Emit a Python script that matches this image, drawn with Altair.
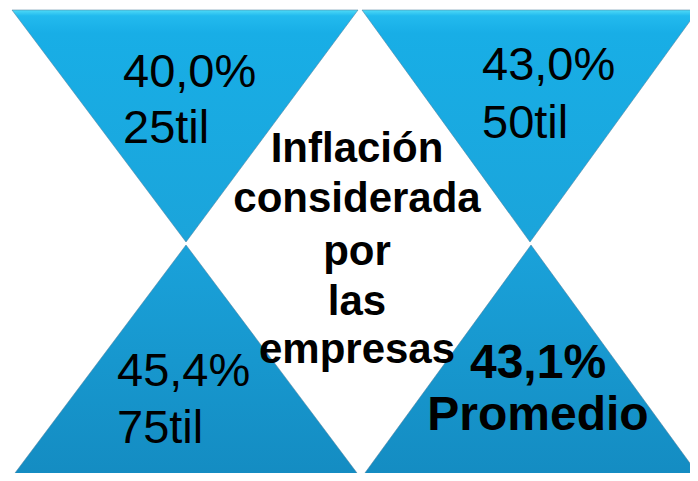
import altair as alt
import pandas as pd

# ---- data ----
pct_values = [40.0, 43.0, 45.4, 43.1]
stat_labels = ["25til", "50til", "75til", "Promedio"]
center_lines = ["Inflación", "considerada", "por", "las", "empresas"]

# ---- layout (pixel frame of the picture) ----
W, H = 682, 465
X0, Y0 = 8, 8
xs = alt.Scale(domain=[X0, X0 + W], nice=False, zero=False)
ys = alt.Scale(domain=[Y0, Y0 + H], nice=False, zero=False, reverse=True)

tri_layout = [
    # name, left, right, apex x, base y, apex y, row
    ("tl", 12, 358, 186, 10, 242, "top"),
    ("tr", 362, 698, 530, 10, 242, "top"),
    ("bl", 12, 360, 186, 477, 245, "bottom"),
    ("br", 362, 700, 531, 477, 245, "bottom"),
]
rows = []
for name, xl, xr, xa, yb, ya, row in tri_layout:
    rows += [
        dict(tri=name, row=row, x=xl, y=yb, y2=yb),
        dict(tri=name, row=row, x=xa, y=ya, y2=yb),
        dict(tri=name, row=row, x=xr, y=yb, y2=yb),
    ]
tri_df = pd.DataFrame(rows)

def fmt(v):
    return f"{v:.1f}".replace(".", ",") + "%"

label_pos = [(123, 87, 143), (482, 80, 138), (117, 386, 443)]
reg_rows = []
for i, (lx, y1, y2) in enumerate(label_pos):
    reg_rows.append(dict(t=fmt(pct_values[i]), x=lx, y=y1))
    reg_rows.append(dict(t=stat_labels[i], x=lx, y=y2))
reg_df = pd.DataFrame(reg_rows)

title_base = [162, 212, 265, 315, 363]
title_df = pd.DataFrame([dict(t=t, x=357, y=b) for t, b in zip(center_lines, title_base)])
avg_df = pd.DataFrame([
    dict(t=fmt(pct_values[3]), x=538, y=378),
    dict(t=stat_labels[3], x=538, y=430),
])

top_grad = alt.Gradient(
    gradient="linear", x1=0, y1=0, x2=0, y2=1,
    stops=[alt.GradientStop(offset=0, color="#4FDAF7"),
           alt.GradientStop(offset=0.025, color="#22BAEE"),
           alt.GradientStop(offset=0.1, color="#18AEE6"),
           alt.GradientStop(offset=1, color="#1BA4DA")])
bot_grad = alt.Gradient(
    gradient="linear", x1=0, y1=0, x2=0, y2=1,
    stops=[alt.GradientStop(offset=0, color="#1AA2DA"),
           alt.GradientStop(offset=1, color="#148CC2")])

def tri_layer(rowname, grad):
    return alt.Chart(tri_df).transform_filter(alt.datum.row == rowname).mark_area(
        orient="vertical", color=grad, stroke="#4d7f9e", strokeWidth=1, strokeOpacity=0.55
    ).encode(
        x=alt.X("x:Q", scale=xs, axis=None),
        y=alt.Y("y:Q", scale=ys, axis=None),
        y2="y2:Q",
        detail="tri:N",
    )

FONT = "Liberation Sans"

reg_text = alt.Chart(reg_df).mark_text(
    font=FONT, fontSize=47, align="left", baseline="alphabetic", color="black"
).encode(x=alt.X("x:Q", scale=xs, axis=None), y=alt.Y("y:Q", scale=ys, axis=None), text="t:N")

title_text = alt.Chart(title_df).mark_text(
    font=FONT, fontSize=42, fontWeight="bold", align="center", baseline="alphabetic", color="black"
).encode(x=alt.X("x:Q", scale=xs, axis=None), y=alt.Y("y:Q", scale=ys, axis=None), text="t:N")

avg_text = alt.Chart(avg_df).mark_text(
    font=FONT, fontSize=48, fontWeight="bold", align="center", baseline="alphabetic", color="black"
).encode(x=alt.X("x:Q", scale=xs, axis=None), y=alt.Y("y:Q", scale=ys, axis=None), text="t:N")

chart = alt.layer(
    tri_layer("top", top_grad),
    tri_layer("bottom", bot_grad),
    reg_text, title_text, avg_text,
).properties(
    width=W, height=H, padding=0, autosize=alt.AutoSizeParams(type="none"), background="white"
).configure_view(stroke=None)

chart.save("out.html", embed_options={"renderer": "svg", "actions": False})
